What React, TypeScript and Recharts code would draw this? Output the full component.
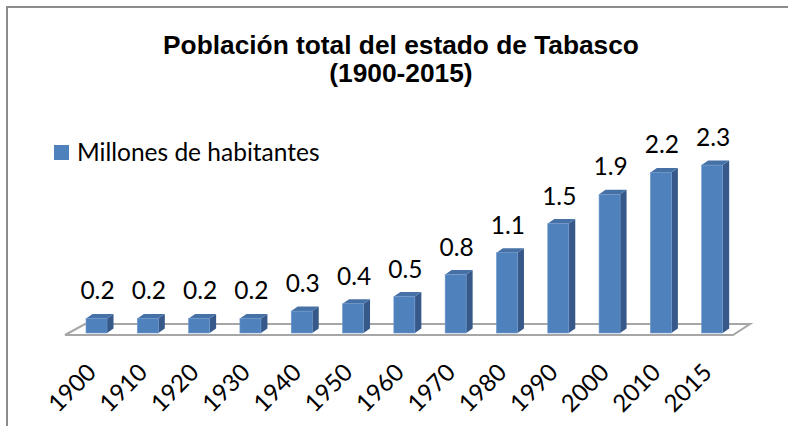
import React from 'react';
import { BarChart, Bar, XAxis, YAxis, LabelList, Legend, ReferenceArea } from 'recharts';

const years = ['1900', '1910', '1920', '1930', '1940', '1950', '1960', '1970', '1980', '1990', '2000', '2010', '2015'];
const population = [0.2, 0.2, 0.2, 0.2, 0.3, 0.4, 0.5, 0.8, 1.1, 1.5, 1.9, 2.2, 2.3];
const seriesName = 'Millones de habitantes';
const titleLines = ['Población total del estado de Tabasco', '(1900-2015)'];

const data = years.map((year, i) => ({ year, value: population[i] }));

const FRONT = '#4F81BD';
const SIDE = '#36598A';
const TOP = '#4671A6';
const LABEL_FONT = 'Lato, "Noto Sans", sans-serif';

const Bar3D = (props: any) => {
  const { x, y, width, height } = props;
  if (height == null || width == null) return null;
  const d = 6.5;
  const dy = 4.5;
  return (
    <g>
      <polygon
        points={`${x + width},${y} ${x + width + d},${y - dy} ${x + width + d},${y + height - dy} ${x + width},${y + height}`}
        fill={SIDE}
      />
      <polygon
        points={`${x},${y} ${x + d},${y - dy} ${x + width + d},${y - dy} ${x + width},${y}`}
        fill={TOP}
      />
      <rect x={x} y={y} width={width} height={height} fill={FRONT} stroke="#6E98CC" strokeWidth={0.6} />
    </g>
  );
};

const Floor = (props: any) => {
  const { x, y, width, height } = props;
  const pts = [
    [x - 6, y + height + 2],
    [x + width - 5, y + height + 2],
    [x + width + 12, y + 2],
    [x + 14, y + 2],
  ]
    .map((p) => p.join(','))
    .join(' ');
  return <polygon points={pts} fill="#FFFFFF" stroke="#A6A6A6" strokeWidth={2} />;
};

const ValueLabel = (props: any) => {
  const { x, y, width, value } = props;
  return (
    <text
      x={x + width / 2 + 1}
      y={y - 19}
      textAnchor="middle"
      fontFamily={LABEL_FONT}
      fontSize={24.5}
      fill="#000"
    >
      {value}
    </text>
  );
};

const YearTick = (props: any) => {
  const { x, y, payload } = props;
  const ax = x + 1;
  const ay = y + 41;
  return (
    <text
      x={ax}
      y={ay}
      textAnchor="end"
      transform={`rotate(-45 ${ax} ${ay})`}
      fontFamily={LABEL_FONT}
      fontSize={24}
      fill="#000"
    >
      {payload.value}
    </text>
  );
};

const LegendContent = (props: any) => {
  const item = (props.payload && props.payload[0]) || { value: seriesName, color: FRONT };
  return (
    <div style={{ display: 'flex', alignItems: 'center', whiteSpace: 'nowrap' }}>
      <span style={{ display: 'inline-block', width: 15, height: 15, background: FRONT, marginRight: 8 }} />
      <span style={{ fontFamily: LABEL_FONT, fontSize: 24.5, color: '#000', lineHeight: '28px' }}>{item.value}</span>
    </div>
  );
};

export default function App() {
  return (
    <div style={{ position: 'absolute', left: 0, top: 0, width: 788, height: 426, background: '#fff', overflow: 'hidden' }}>
      <div
        style={{
          position: 'absolute',
          left: 6,
          top: 6,
          width: 800,
          height: 440,
          borderTop: '2px solid #8C8C8C',
          borderLeft: '2px solid #8C8C8C',
        }}
      />
      <div
        style={{
          position: 'absolute',
          left: 0,
          top: 31,
          width: 802,
          textAlign: 'center',
          fontFamily: '"Liberation Sans", Arial, sans-serif',
          fontWeight: 'bold',
          fontSize: 26.3,
          lineHeight: '28px',
          color: '#000',
        }}
      >
        {titleLines.map((t) => (
          <div key={t}>{t}</div>
        ))}
      </div>
      <div style={{ position: 'absolute', left: 0, top: 0 }}>
        <BarChart
          width={788}
          height={426}
          data={data}
          margin={{ top: 150.5, right: 50, bottom: 23, left: 71 }}
          barSize={21}
        >
          <XAxis
            dataKey="year"
            axisLine={false}
            tickLine={false}
            tickSize={0}
            tickMargin={0}
            height={70}
            interval={0}
            tick={<YearTick />}
          />
          <YAxis hide domain={[0, 2.5]} />
          <ReferenceArea y1={0} y2={0.15} shape={<Floor />} ifOverflow="visible" />
          <Legend
            layout="horizontal"
            verticalAlign="middle"
            align="center"
            content={<LegendContent />}
            wrapperStyle={{ left: 54, top: 138, width: 340 }}
          />
          <Bar dataKey="value" name={seriesName} fill={FRONT} shape={<Bar3D />} isAnimationActive={false}>
            <LabelList dataKey="value" content={<ValueLabel />} />
          </Bar>
        </BarChart>
      </div>
    </div>
  );
}
